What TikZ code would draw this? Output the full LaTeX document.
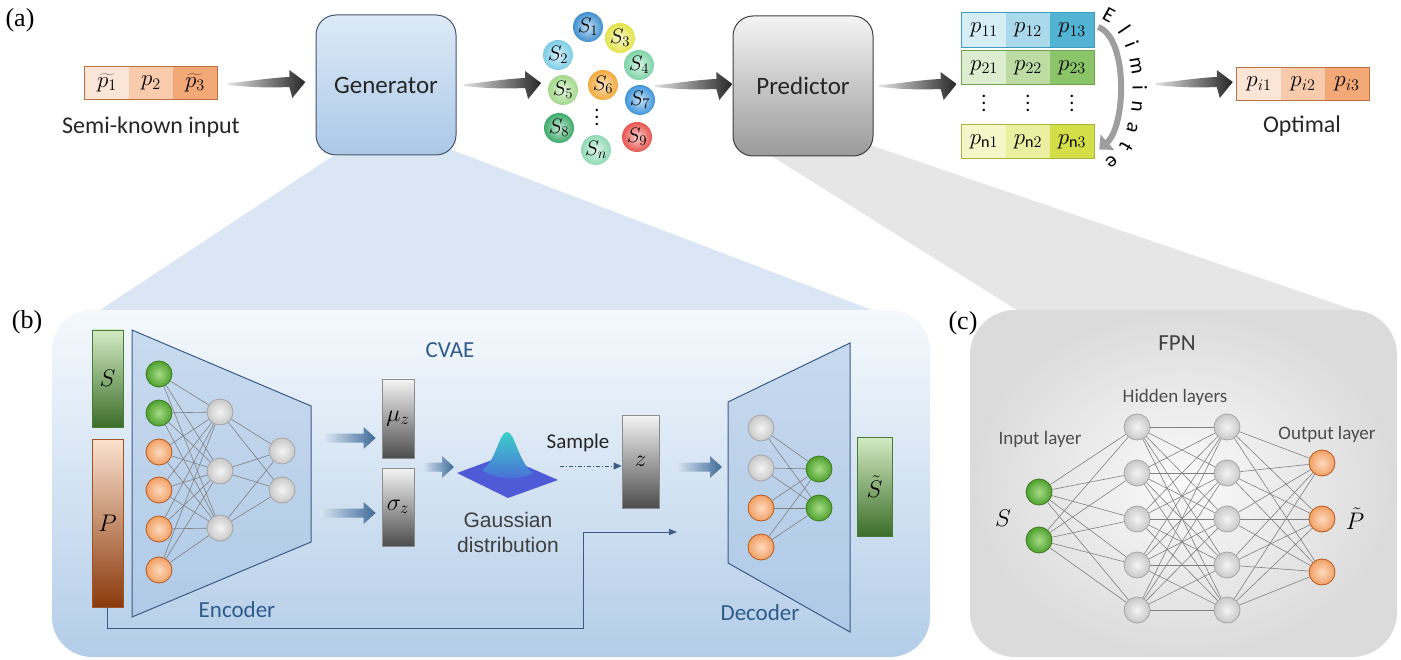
\RequirePackage{fix-cm}
\documentclass[tikz,border=0pt]{standalone}
\usepackage{fontspec}
\setmainfont{Carlito}
\newfontfamily\labfont{Liberation Serif}
\newfontfamily\arialfont{Liberation Sans}
\usetikzlibrary{shapes,arrows.meta,calc,decorations.text}

\definecolor{genTop}{HTML}{DDEAF7}
\definecolor{genBot}{HTML}{ABC8E8}
\definecolor{genLine}{HTML}{44546A}
\definecolor{preTop}{HTML}{F4F4F4}
\definecolor{preBot}{HTML}{9A9A9A}
\definecolor{preLine}{HTML}{3F3F3F}
\definecolor{peachA}{HTML}{FBE5D6}
\definecolor{peachB}{HTML}{F8CBAD}
\definecolor{peachC}{HTML}{F3A878}
\definecolor{peachLine}{HTML}{C0703F}
\definecolor{rowAa}{HTML}{D5EEF6}
\definecolor{rowAb}{HTML}{A9D9EA}
\definecolor{rowAc}{HTML}{52B3D3}
\definecolor{rowAline}{HTML}{3E9CC0}
\definecolor{rowBa}{HTML}{DDEDCF}
\definecolor{rowBb}{HTML}{BCDCA3}
\definecolor{rowBc}{HTML}{8CC46A}
\definecolor{rowBline}{HTML}{6FA552}
\definecolor{rowNa}{HTML}{F5F7C8}
\definecolor{rowNb}{HTML}{EBF0A0}
\definecolor{rowNc}{HTML}{D3DE48}
\definecolor{rowNline}{HTML}{AAB43A}
\definecolor{sOne}{HTML}{3F8FD0}
\definecolor{sTwo}{HTML}{7CCDE6}
\definecolor{sThree}{HTML}{E3E34A}
\definecolor{sFour}{HTML}{7DD3A7}
\definecolor{sFive}{HTML}{A2D98A}
\definecolor{sSix}{HTML}{F2A93B}
\definecolor{sSeven}{HTML}{3E95DA}
\definecolor{sEight}{HTML}{3DAA6A}
\definecolor{sNine}{HTML}{E8554F}
\definecolor{sEn}{HTML}{8FDAB5}
\definecolor{funBlue}{HTML}{DAE6F3}
\definecolor{funGray}{HTML}{E6E6E6}
\definecolor{pbTop}{HTML}{F5F9FD}
\definecolor{pbBot}{HTML}{B3CDE8}
\definecolor{pcIn}{HTML}{FAFAFA}
\definecolor{pcOut}{HTML}{DBDBDB}
\definecolor{trapFill}{HTML}{A7C4E4}
\definecolor{trapLine}{HTML}{3B5B85}
\definecolor{txtBlue}{HTML}{2F5B8C}
\definecolor{barTail}{HTML}{D8E5F3}
\definecolor{barHead}{HTML}{3E6A98}
\definecolor{gnLine}{HTML}{3B7A1F}
\definecolor{gnIn}{HTML}{A8DC88}
\definecolor{gnOut}{HTML}{4EA02E}
\definecolor{onLine}{HTML}{B8581C}
\definecolor{onIn}{HTML}{FDDAC0}
\definecolor{onOut}{HTML}{F2A064}
\definecolor{hnLine}{HTML}{A6A6A6}
\definecolor{hnIn}{HTML}{F4F4F4}
\definecolor{hnOut}{HTML}{C9C9C9}
\definecolor{sTop}{HTML}{D3EBC3}
\definecolor{sBot}{HTML}{3C6E2A}
\definecolor{sLine}{HTML}{4A7A3A}
\definecolor{pTop}{HTML}{FCE2CF}
\definecolor{pBot}{HTML}{8A3A0C}
\definecolor{pLine}{HTML}{A0522D}
\definecolor{gaussTop}{HTML}{3CCFC9}
\definecolor{gaussBot}{HTML}{4B6BD9}
\definecolor{gaussBase}{HTML}{4F5AD6}
\definecolor{elimGray}{HTML}{9E9E9E}

% fat shaded arrow, tail at #1, head at #2
\newcommand{\bluearr}[2]{%
  \shade[left color=barTail, right color=barHead]
    ($(#1)+(0,-4.5)$) -- ($(#2)+(-12,-4.5)$) -- ($(#2)+(-12,-11)$) -- (#2)
    -- ($(#2)+(-12,11)$) -- ($(#2)+(-12,4.5)$) -- ($(#1)+(0,4.5)$) -- cycle;}
% vertical dots with wider spacing
\newcommand{\tallvdots}{\vbox{\baselineskip=7pt\lineskiplimit=0pt\hbox{.}\hbox{.}\hbox{.}}}

\tikzset{
  labtxt/.style={font=\labfont\fontsize{26}{26}\selectfont},
  bigbox/.style={rounded corners=20pt, minimum width=140pt, minimum height=140pt,
    line width=1pt, font=\fontsize{25}{25}\selectfont, text=black!85},
  pcell/.style={minimum width=44pt, minimum height=32pt, inner sep=0pt,
    font=\fontsize{23}{23}\selectfont},
  sball/.style={circle, minimum size=30pt, inner sep=0pt, inner color=#1!30!white,
    outer color=#1, font=\fontsize{21}{21}\selectfont},
  vdot/.style={inner sep=0pt, font=\fontsize{20}{20}\selectfont},
  nn/.style={circle, minimum size=26pt, inner sep=0pt, line width=0.8pt},
  greennode/.style={nn, draw=gnLine, inner color=gnIn, outer color=gnOut},
  orangenode/.style={nn, draw=onLine, inner color=onIn, outer color=onOut},
  graynode/.style={nn, draw=hnLine, inner color=hnIn, outer color=hnOut},
  wire/.style={draw=black!50, line width=0.6pt},
  colbar/.style={inner sep=0pt, line width=0.8pt, font=\fontsize{24}{24}\selectfont},
  gbox/.style={inner sep=0pt, line width=0.8pt, draw=black!45, top color=black!4,
    middle color=black!22, bottom color=black!70, font=\fontsize{24}{24}\selectfont},
  trap/.style={fill=trapFill, fill opacity=0.55, draw=trapLine, line width=1pt},
  netlab/.style={font=\fontsize{23}{23}\selectfont, text=txtBlue},
  fpnlab/.style={font=\fontsize{19}{19}\selectfont, text=black!70},
  captxt/.style={font=\fontsize{24}{24}\selectfont, text=black!85},
  fatarr/.pic={
    \shade[left color=black!12, right color=black!85]
      (-38,-1) .. controls (-20,-2) and (0,-6) .. (23,-7) -- (23,-14) -- (39,-2)
      -- (26,14) -- (23,3) .. controls (0,4) and (-20,3) .. (-38,1) -- cycle;
  }
}

\begin{document}
\begin{tikzpicture}[x=1pt, y=-1pt]
    \useasboundingbox (0,0) rectangle (1401,660);

    %---------------------------------------------------------------%
    % zoom funnels and panels
    \fill[funBlue] (333,156) -- (452,150) -- (872,310) -- (100,310) -- cycle;
    \fill[funGray] (765,152) -- (870,145) -- (1360,312) -- (1020,312) -- cycle;
    \shade[top color=pbTop, bottom color=pbBot, rounded corners=40pt] (52,310) rectangle (930,657);
    \shade[inner color=pcIn, outer color=pcOut, rounded corners=45pt] (970,310) rectangle (1397,657);

    \node[labtxt] (la) at (20,20)  {(a)};
    \node[labtxt] (lb) at (27,322) {(b)};
    \node[labtxt] (lc) at (963,323) {(c)};

    %---------------------------------------------------------------%
    % (a) pipeline
    \foreach \n/\x/\c/\t in {1/107/peachA/{$\widetilde{p_1}$}, 2/151/peachB/{$p_2$}, 3/195/peachC/{$\widetilde{p_3}$}}{
        \node[pcell, fill=\c] (in\n) at (\x,83) {\t};
    }
    \draw[peachLine, line width=1pt] (in1.north west) rectangle (in3.south east);
    \node[captxt] (semi) at (151,127) {Semi-known input};

    \node[bigbox, top color=genTop, bottom color=genBot, draw=genLine] (gen) at (386,85) {Generator};
    \node[bigbox, top color=preTop, bottom color=preBot, draw=preLine] (pred) at (803,86) {Predictor};

    \foreach \n/\x/\y/\c in {1/588/27/sOne, 3/620/38/sThree, 2/558/55/sTwo, 4/639/65/sFour,
        5/563/90/sFive, 6/603/85/sSix, 7/640/100/sSeven, 8/559/128/sEight, 9/637/137/sNine, n/596/150/sEn}{
        \node[sball=\c] (s\n) at (\x,\y) {$S_{\n}$};
    }
    \node[vdot] (sdots) at (597,117) {\tallvdots};

    \foreach \c/\x/\f in {1/984/rowAa, 2/1028/rowAb, 3/1072/rowAc}{
        \node[pcell, fill=\f, minimum height=34pt] (p1\c) at (\x,30) {$p_{1\c}$};
    }
    \foreach \c/\x/\f in {1/984/rowBa, 2/1028/rowBb, 3/1072/rowBc}{
        \node[pcell, fill=\f, minimum height=34pt] (p2\c) at (\x,67.5) {$p_{2\c}$};
        \node[vdot] (pd\c) at (\x,103) {\tallvdots};
    }
    \foreach \c/\x/\f in {1/984/rowNa, 2/1028/rowNb, 3/1072/rowNc}{
        \node[pcell, fill=\f, minimum height=34pt] (pn\c) at (\x,141.5) {$p_{\mathrm{n}\c}$};
    }
    \draw[rowAline, line width=1pt] (p11.north west) rectangle (p13.south east);
    \draw[rowBline, line width=1pt] (p21.north west) rectangle (p23.south east);
    \draw[rowNline, line width=1pt] (pn1.north west) rectangle (pn3.south east);

    \foreach \c/\x/\f in {1/1259/peachA, 2/1303/peachB, 3/1347/peachC}{
        \node[pcell, fill=\f] (opt\c) at (\x,84) {$p_{i\c}$};
    }
    \draw[peachLine, line width=1pt] (opt1.north west) rectangle (opt3.south east);
    \node[captxt] (optimal) at (1302,126) {Optimal};

    % shaded arrows
    \pic at ($(in3.east)!0.5!(gen.west)$) {fatarr};
    \pic at ($(gen.east)!0.5!(s5.west |- gen.east)$) {fatarr};
    \pic at ($(s4.east |- pred.west)!0.5!(pred.west)$) {fatarr};
    \pic at ($(pred.east)!0.5!(p21.west |- pred.east)$) {fatarr};
    \pic at ($(opt1.west)+(-43,0)$) {fatarr};

    % eliminate
    \coordinate (elimA) at ($(p13.east)+(4,-3)$);
    \coordinate (elimB) at ($(pn3.east)+(5,8)$);
    \draw[line width=6pt, elimGray, -{Triangle[length=11pt,width=20pt]}]
      (elimA) .. controls +(30,11) and +(27,-24) .. (elimB);
    \path[decorate, decoration={text along path, text={|\fontsize{21}{21}\selectfont|Eliminate},
      text align={fit to path}}] (1101,19) .. controls (1141,32) and (1144,138) .. (1104,161);

    %---------------------------------------------------------------%
    % (b) CVAE
    \node[netlab] (cvae) at (450,350) {CVAE};
    \node[colbar, top color=sTop, bottom color=sBot, draw=sLine, minimum width=31pt, minimum height=97pt] (sbar) at (107.5,378.5) {$S$};
    \node[colbar, top color=pTop, bottom color=pBot, draw=pLine, minimum width=31pt, minimum height=168pt] (pbar) at (107.5,523) {$P$};

    \draw[trap] (132,330) -- (311,406) -- (311,542) -- (132,617) -- cycle;
    \node[netlab] (enc) at (237,610) {Encoder};
    \foreach \i/\y/\s in {1/374/greennode, 2/413/greennode, 3/452/orangenode, 4/490/orangenode, 5/529/orangenode, 6/570/orangenode}{
        \node[\s] (ea\i) at (159,\y) {};
    }
    \foreach \i/\y in {1/412, 2/471, 3/528}{
        \node[graynode] (eb\i) at (220,\y) {};
    }
    \foreach \i/\y in {1/451, 2/490}{
        \node[graynode] (ec\i) at (282,\y) {};
    }
    \foreach \i in {1,...,6}{
        \foreach \j in {1,2,3}{
            \draw[wire] (ea\i) -- (eb\j);
        }
    }
    \foreach \i in {1,2,3}{
        \foreach \j in {1,2}{
            \draw[wire] (eb\i) -- (ec\j);
        }
    }

    \node[gbox, minimum width=32pt, minimum height=79pt] (mu) at (398,418.5) {$\mu_z$};
    \node[gbox, minimum width=32pt, minimum height=78pt] (sigma) at (398,507) {$\sigma_z$};
    \coordinate (muT) at (325,438);
    \path (muT -| mu.west) ++(-6,0) coordinate (muH);
    \coordinate (sgT) at (320,513);
    \path (sgT -| sigma.west) ++(-6,0) coordinate (sgH);
    \bluearr{muT}{muH}
    \bluearr{sgT}{sgH}

    % gaussian
    \coordinate (gauss) at (457,467);
    \fill[gaussBase] (457,473) -- (503,456) -- (558,480) -- (508,498) -- cycle;
    \shade[top color=gaussTop, bottom color=gaussBot]
      (482,470) .. controls (496,462) and (499,432) .. (507,432)
      .. controls (515,432) and (518,462) .. (533,473)
      .. controls (520,481) and (494,480) .. (482,470) -- cycle;
    \coordinate (gT) at (423,467);
    \path (gauss) ++(-3,0) coordinate (gH);
    \bluearr{gT}{gH}
    \node[font=\arialfont\fontsize{21}{25}\selectfont, text=black!75, align=center] (gtxt) at (508,532) {Gaussian\\distribution};

    \node[gbox, minimum width=37pt, minimum height=93pt] (zb) at (640.5,461.5) {$z$};
    \node[font=\fontsize{21}{21}\selectfont, text=black!85] (samp) at (578,443) {Sample};
    \coordinate (sampT) at (560,466);
    \draw[trapLine, line width=0.8pt, dash pattern=on 4pt off 2pt on 1pt off 2pt, -{Triangle[length=8pt,width=7pt]}]
      (sampT) -- (sampT -| zb.west);

    \coordinate (dT) at (677,467);
    \coordinate (dH) at (722,467);
    \bluearr{dT}{dH}

    % skip connection
    \coordinate (skipA) at (583,628);
    \coordinate (skipB) at (677,532);
    \draw[trapLine, line width=1pt, -{Triangle[length=8pt,width=6pt]}] (pbar.south) |- (skipA) |- (skipB);

    \draw[trap] (728,402) -- (850,343) -- (850,632) -- (728,563) -- cycle;
    \node[netlab] (dec) at (760,613) {Decoder};
    \foreach \i/\y/\s in {1/428/graynode, 2/468/graynode, 3/508/orangenode, 4/547/orangenode}{
        \node[\s] (da\i) at (761,\y) {};
    }
    \foreach \i/\y in {1/469, 2/508}{
        \node[greennode] (db\i) at (819,\y) {};
    }
    \foreach \i in {1,...,4}{
        \foreach \j in {1,2}{
            \draw[wire] (da\i) -- (db\j);
        }
    }
    \node[colbar, top color=sTop, bottom color=sBot, draw=sLine, minimum width=35pt, minimum height=99pt] (stbar) at (874.5,486.5) {$\tilde{S}$};

    %---------------------------------------------------------------%
    % (c) FPN
    \node[font=\fontsize{23}{23}\selectfont, text=black!75] (fpn) at (1177,343) {FPN};
    \node[fpnlab] (hid) at (1175,397) {Hidden layers};
    \node[fpnlab] (inl) at (1040,439) {Input layer};
    \node[fpnlab] (outl) at (1327,434) {Output layer};
    \foreach \i/\y in {1/492, 2/540}{
        \node[greennode] (fi\i) at (1039,\y) {};
    }
    \foreach \i/\y in {1/427, 2/473, 3/519, 4/565, 5/610}{
        \node[graynode] (fa\i) at (1137,\y) {};
        \node[graynode] (fb\i) at (1227,\y) {};
    }
    \foreach \i/\y in {1/463, 2/519, 3/572}{
        \node[orangenode] (fo\i) at (1322,\y) {};
    }
    \foreach \i in {1,2}{
        \foreach \j in {1,...,5}{
            \draw[wire] (fi\i) -- (fa\j);
        }
    }
    \foreach \i in {1,...,5}{
        \foreach \j in {1,...,5}{
            \draw[wire] (fa\i) -- (fb\j);
        }
        \foreach \j in {1,2,3}{
            \draw[wire] (fb\i) -- (fo\j);
        }
    }
    \node[font=\fontsize{24}{24}\selectfont] (fS) at (1003,518) {$S$};
    \node[font=\fontsize{24}{24}\selectfont] (fP) at (1355,519) {$\tilde{P}$};

\end{tikzpicture}
\end{document}
